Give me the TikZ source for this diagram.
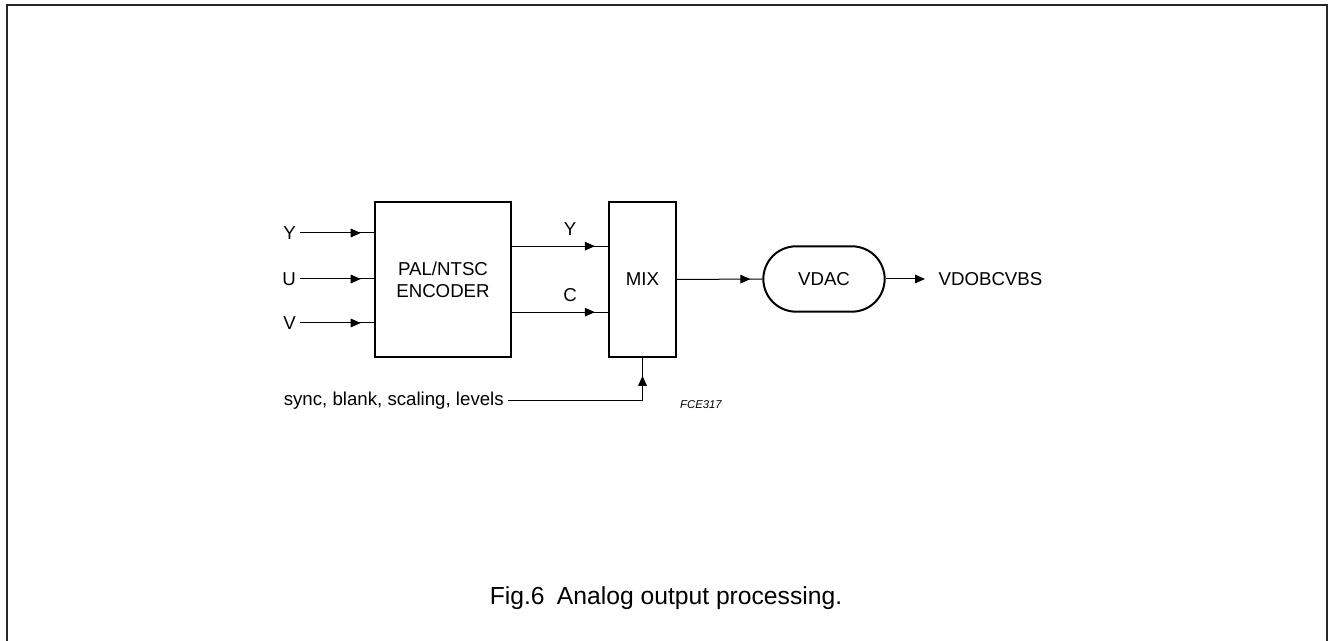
\documentclass[tikz,border=0pt]{standalone}
\usepackage{fontspec}
\setmainfont{Liberation Sans}
\usetikzlibrary{arrows.meta, decorations.markings, shapes.misc, positioning}

\begin{document}
\begin{tikzpicture}[x=0.75pt, y=-0.75pt, font=\fontsize{14}{16.5}\selectfont,
		block/.style={draw, line width=1.5pt, inner sep=0},
		lbl/.style={inner sep=3pt},
		sig/.style={line width=0.75pt, postaction={decorate},
			decoration={markings, mark=at position -#1 with {\arrow{Triangle[length=7.5pt, width=6.5pt]}}}},
		sig/.default=10pt]
			\useasboundingbox (0, 0) rectangle (1329, 641);
			\draw[line width=1.5pt, black!85] (7, 641) -- (7, 5) -- (1327, 5) -- (1327, 641);
			% blocks
			\node[block, minimum width=102pt, minimum height=116pt, align=center] (enc) at (443, 279.5) {PAL/NTSC\\ENCODER};
			\node[block, minimum width=50pt, minimum height=116pt] (mix) at (642.5, 279.5) {MIX};
			\node[block, rounded rectangle, minimum width=91pt, minimum height=49pt] (vdac) at (824, 279) {VDAC};
			% inputs
			\node[lbl, anchor=east] (yin) at (300, 233) {Y};
			\node[lbl, anchor=east] (uin) at (300, 279) {U};
			\node[lbl, anchor=east] (vin) at (300, 323) {V};
			\foreach \n in {yin, uin, vin}
				\draw[sig] (\n.east) -- (enc.west |- \n.east);
			% encoder to mix
			\draw[sig] ([yshift=25pt]enc.east) -- ([yshift=25pt]mix.west);
			\draw[sig] ([yshift=-24.5pt]enc.east) -- ([yshift=-24.5pt]mix.west);
			\node (ylbl) at (570, 229) {Y};
			\node (clbl) at (570, 295) {C};
			% control
			\node[lbl, anchor=east] (ctl) at (508, 401) {sync, blank, scaling, levels};
			\draw[sig=13.5pt] (ctl.east) -| (mix.south);
			\node (code) at (701, 405) {\fontsize{8.5}{10}\selectfont\itshape FCE317};
			% output
			\draw[sig=9pt] (mix.east) -- (vdac.west);
			\node[inner xsep=10pt, anchor=west] (out) at (925, 279) {VDOBCVBS};
			\draw[line width=0.75pt, -{Triangle[length=7.5pt, width=6.5pt]}] (vdac.east) -- (out.west);
			% caption
			\node (cap) at (666, 598) {\fontsize{18.5}{22}\selectfont Fig.6\enspace Analog output processing.};
		\end{tikzpicture}
\end{document}
